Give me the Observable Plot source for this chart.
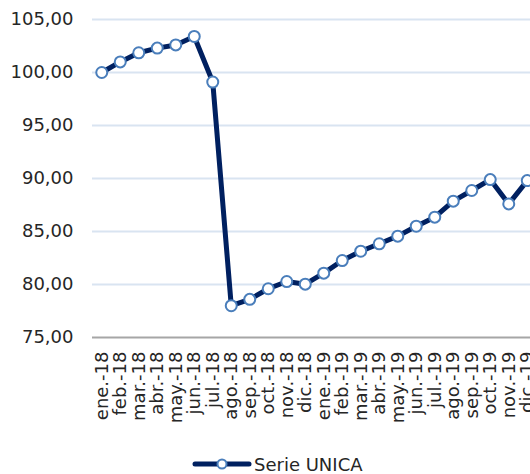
<!DOCTYPE html>
<html>
<head>
<meta charset="utf-8">
<script src="https://cdn.jsdelivr.net/npm/d3@7"></script>
<script src="https://cdn.jsdelivr.net/npm/@observablehq/plot@0.6"></script>
<style>
  html, body { margin: 0; padding: 0; background: #fff; overflow: hidden; width: 530px; height: 474px; }
  #chart { width: 530px; overflow: hidden; }
  #chart svg { max-width: none !important; }
  #legend { position: absolute; left: 192px; top: 456px; height: 18px; line-height: 18px; white-space: nowrap; font-family: "DejaVu Sans", sans-serif; font-size: 18px; color: #262626; }
  #legend svg { vertical-align: middle; margin-right: 2px; position: relative; top: -2px; }
</style>
</head>
<body>
<div id="chart"></div>
<div id="legend"></div>
<script>
const months = ["ene.-18","feb.-18","mar.-18","abr.-18","may.-18","jun.-18","jul.-18","ago.-18","sep.-18","oct.-18","nov.-18","dic.-18",
                "ene.-19","feb.-19","mar.-19","abr.-19","may.-19","jun.-19","jul.-19","ago.-19","sep.-19","oct.-19","nov.-19","dic.-19"];
const values = [100.0, 101.0, 101.86, 102.3, 102.6, 103.4, 99.1, 78.0, 78.6, 79.6, 80.28, 80.03,
                81.07, 82.26, 83.14, 83.84, 84.56, 85.5, 86.35, 87.86, 88.87, 89.9, 87.6, 89.8];
const yTicks = [75, 80, 85, 90, 95, 100, 105];
const seriesName = "Serie UNICA";

const data = months.map((m, i) => ({month: m, value: values[i]}));
const lineColor = "#002060";
const markerStroke = "#4a7ebb";

const chart = Plot.plot({
  width: 540,
  height: 450,
  marginLeft: 92,
  marginRight: 4,
  marginTop: 19,
  marginBottom: 113,
  style: {fontFamily: "DejaVu Sans, sans-serif", color: "#262626", background: "#fff", overflow: "visible", maxWidth: "none"},
  x: {type: "point", domain: months, padding: 0.5, round: false, label: null},
  y: {domain: [75, 105], label: null},
  marks: [
    Plot.gridY(yTicks.filter(d => d > 75), {stroke: "#d9e4f1", strokeOpacity: 1, strokeWidth: 2}),
    Plot.ruleY([75], {stroke: "#a6a6a6", strokeWidth: 2}),
    Plot.axisY(yTicks, {tickSize: 0, tickPadding: 19, fontSize: 18, tickFormat: d => d.toFixed(2).replace(".", ","), label: null}),
    Plot.axisX(months, {tickSize: 0, tickPadding: 14, tickRotate: -90, fontSize: 18, label: null}),
    Plot.line(data, {x: "month", y: "value", stroke: lineColor, strokeWidth: 5, curve: "linear"}),
    Plot.dot(data, {x: "month", y: "value", r: 5.5, fill: "#fff", stroke: markerStroke, strokeWidth: 2})
  ]
});
document.getElementById("chart").appendChild(chart);

document.getElementById("legend").innerHTML =
  `<svg width="60" height="14"><line x1="3" y1="7" x2="57" y2="7" stroke="${lineColor}" stroke-width="5" stroke-linecap="round"/>` +
  `<circle cx="30" cy="7" r="4.5" fill="#fff" stroke="${markerStroke}" stroke-width="2"/></svg>` +
  `<span>${seriesName}</span>`;
</script>
</body>
</html>
